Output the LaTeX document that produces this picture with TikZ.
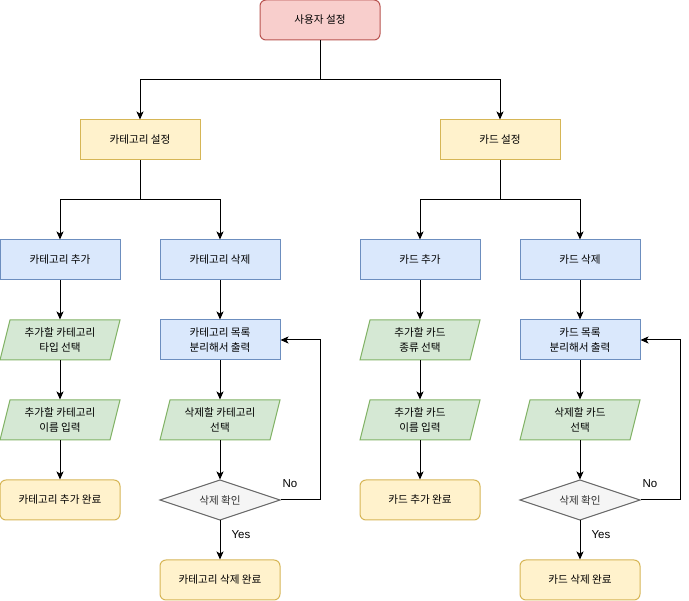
\documentclass[tikz,border=0pt]{standalone}
\usepackage{fontspec}
\setmainfont{Noto Sans CJK KR}
\newfontfamily\latinlbl{Liberation Sans}
\usetikzlibrary{arrows.meta}
\definecolor{redF}{HTML}{F8CECC}\definecolor{redS}{HTML}{B85450}
\definecolor{yelF}{HTML}{FFF2CC}\definecolor{yelS}{HTML}{D6B656}
\definecolor{bluF}{HTML}{DAE8FC}\definecolor{bluS}{HTML}{6C8EBF}
\definecolor{grnF}{HTML}{D5E8D4}\definecolor{grnS}{HTML}{82B366}
\definecolor{gryF}{HTML}{F5F5F5}\definecolor{gryS}{HTML}{666666}
\definecolor{gryT}{HTML}{333333}
\begin{document}
\begin{tikzpicture}[x=1pt,y=-1pt,
  every node/.style={font=\fontsize{10.6}{14.5}\selectfont},
  box/.style={minimum width=120pt,minimum height=40pt,inner sep=0pt,align=center,line width=1pt},
  rootbox/.style={box,draw=redS,fill=redF,rounded corners=6pt},
  setbox/.style={box,draw=yelS,fill=yelF},
  actbox/.style={box,draw=bluS,fill=bluF},
  iobox/.style={box},
  donebox/.style={box,draw=yelS,fill=yelF,rounded corners=6pt},
  decbox/.style={box,text=gryT},
  para/.style={draw=grnS,fill=grnF,line width=1pt},
  dia/.style={draw=gryS,fill=gryF,line width=1pt},
  arr/.style={line width=1pt,-{Stealth[length=8pt,width=7pt,inset=2pt]}},
  lbl/.style={inner sep=0pt,font=\latinlbl\fontsize{11.5}{13}\selectfont}
]
\useasboundingbox (0,0) rectangle (689,601);

\node[rootbox] (root) at (320,20) {사용자 설정};
\node[setbox] (cat) at (140,140) {카테고리 설정};
\node[setbox] (card) at (500,140) {카드 설정};

\node[actbox] (catadd) at (60,260) {카테고리 추가};
\node[actbox] (catdel) at (220,260) {카테고리 삭제};
\node[actbox] (cardadd) at (420,260) {카드 추가};
\node[actbox] (carddel) at (580,260) {카드 삭제};

% parallelogram backgrounds
\foreach \cx/\cy in {60/340,60/420,220/420,420/340,420/420,580/420}{
  \draw[para] (\cx-50,\cy-20) -- (\cx+60,\cy-20) -- (\cx+50,\cy+20) -- (\cx-60,\cy+20) -- cycle;
}
% diamonds
\foreach \cx in {220,580}{
  \draw[dia] (\cx-60,500) -- (\cx,480) -- (\cx+60,500) -- (\cx,520) -- cycle;
}

\node[iobox] (catin1) at (60,340) {추가할 카테고리\\타입 선택};
\node[iobox] (catin2) at (60,420) {추가할 카테고리\\이름 입력};
\node[donebox] (catok) at (60,500) {카테고리 추가 완료};

\node[actbox] (catlist) at (220,340) {카테고리 목록\\분리해서 출력};
\node[iobox] (catsel) at (220,420) {삭제할 카테고리\\선택};
\node[decbox] (catdec) at (220,500) {삭제 확인};
\node[donebox] (catdone) at (220,580) {카테고리 삭제 완료};

\node[iobox] (cardin1) at (420,340) {추가할 카드\\종류 선택};
\node[iobox] (cardin2) at (420,420) {추가할 카드\\이름 입력};
\node[donebox] (cardok) at (420,500) {카드 추가 완료};

\node[actbox] (cardlist) at (580,340) {카드 목록\\분리해서 출력};
\node[iobox] (cardsel) at (580,420) {삭제할 카드\\선택};
\node[decbox] (carddec) at (580,500) {삭제 확인};
\node[donebox] (carddone) at (580,580) {카드 삭제 완료};

\coordinate (bus0) at (320,80);
\coordinate (bus1) at (140,200);
\coordinate (bus2) at (500,200);
\coordinate (loop1) at (320,500);
\coordinate (loop2) at (680,500);

\draw[arr] (root.south) -- (bus0) -| (cat.north);
\draw[arr] (root.south) -- (bus0) -| (card.north);
\draw[arr] (cat.south) -- (bus1) -| (catadd.north);
\draw[arr] (cat.south) -- (bus1) -| (catdel.north);
\draw[arr] (card.south) -- (bus2) -| (cardadd.north);
\draw[arr] (card.south) -- (bus2) -| (carddel.north);

\draw[arr] (catadd) -- (catin1);
\draw[arr] (catin1) -- (catin2);
\draw[arr] (catin2) -- (catok);
\draw[arr] (catdel) -- (catlist);
\draw[arr] (catlist) -- (catsel);
\draw[arr] (catsel) -- (catdec.north);
\draw[arr] (catdec.south) -- (catdone);
\draw[arr] (catdec.east) -- (loop1) |- (catlist.east);

\draw[arr] (cardadd) -- (cardin1);
\draw[arr] (cardin1) -- (cardin2);
\draw[arr] (cardin2) -- (cardok);
\draw[arr] (carddel) -- (cardlist);
\draw[arr] (cardlist) -- (cardsel);
\draw[arr] (cardsel) -- (carddec.north);
\draw[arr] (carddec.south) -- (carddone);
\draw[arr] (carddec.east) -- (loop2) |- (cardlist.east);

\node[lbl] (no1) at (290,484) {No};
\node[lbl] (yes1) at (241,535) {Yes};
\node[lbl] (no2) at (650,484) {No};
\node[lbl] (yes2) at (601,535) {Yes};
\end{tikzpicture}
\end{document}
